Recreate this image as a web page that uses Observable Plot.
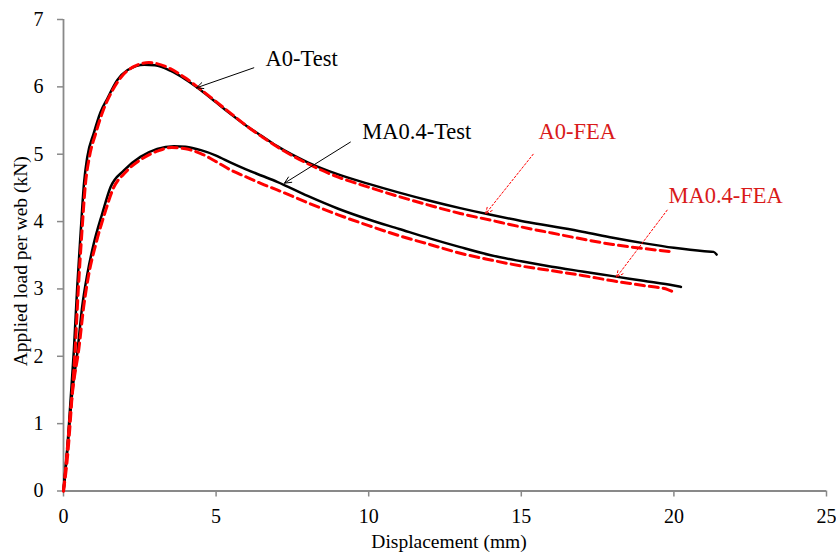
<!DOCTYPE html>
<html>
<head>
<meta charset="utf-8">
<script src="https://cdn.jsdelivr.net/npm/d3@7"></script>
<script src="https://cdn.jsdelivr.net/npm/@observablehq/plot@0.6"></script>
<style>
  html, body { margin: 0; padding: 0; background: #fff; }
</style>
</head>
<body>
<div id="chart"></div>
<script>
// ---- Data ----
const xTicks = [0, 5, 10, 15, 20, 25];
const yTicks = [0, 1, 2, 3, 4, 5, 6, 7];

const a0TestX = [0, 0.12, 0.23, 0.34, 0.45, 0.56, 0.67, 0.78, 0.99, 1.21, 1.43, 1.76, 2.1, 2.65, 3.0, 3.5, 4.0, 4.5, 5.0, 5.5, 6.0, 6.5, 7.0, 8.0, 9.0, 10, 11, 12, 13, 14, 15, 16, 17, 18, 19, 20, 21, 21.3, 21.4];
const a0TestY = [0, 0.6, 1.34, 2.09, 3.03, 3.82, 4.56, 4.96, 5.31, 5.62, 5.82, 6.1, 6.25, 6.33, 6.32, 6.24, 6.11, 5.95, 5.77, 5.59, 5.42, 5.27, 5.12, 4.88, 4.70, 4.56, 4.43, 4.31, 4.20, 4.10, 4.01, 3.93, 3.85, 3.76, 3.68, 3.61, 3.56, 3.55, 3.51];

const a0FeaX = [0, 0.15, 0.27, 0.38, 0.49, 0.6, 0.72, 0.85, 1.05, 1.3, 1.55, 1.9, 2.3, 2.8, 3.0, 3.5, 4.0, 4.5, 5.0, 5.5, 6.0, 6.5, 7.0, 8.0, 9.0, 10, 11, 12, 13, 14, 15, 16, 17, 18, 19, 20];
const a0FeaY = [0, 0.6, 1.34, 2.09, 3.03, 3.82, 4.56, 4.96, 5.3, 5.65, 5.9, 6.15, 6.3, 6.36, 6.35, 6.27, 6.13, 5.96, 5.78, 5.6, 5.42, 5.26, 5.11, 4.86, 4.66, 4.51, 4.37, 4.24, 4.12, 4.02, 3.92, 3.83, 3.74, 3.66, 3.6, 3.55];

const ma04TestX = [0, 0.08, 0.17, 0.28, 0.45, 0.61, 0.78, 0.99, 1.27, 1.54, 1.98, 2.52, 3.07, 3.62, 4.0, 4.5, 5.0, 5.5, 6.0, 6.5, 7.0, 8.0, 9.0, 10, 11, 12, 13, 14, 15, 16, 17, 18, 19, 20, 20.23];
const ma04TestY = [0, 0.4, 0.85, 1.44, 2.04, 2.73, 3.22, 3.67, 4.12, 4.51, 4.76, 4.96, 5.08, 5.12, 5.11, 5.06, 4.98, 4.87, 4.77, 4.68, 4.59, 4.38, 4.19, 4.03, 3.89, 3.75, 3.62, 3.5, 3.41, 3.33, 3.26, 3.19, 3.12, 3.05, 3.03];

const ma04FeaX = [0, 0.12, 0.22, 0.33, 0.5, 0.66, 0.83, 1.05, 1.35, 1.62, 2.05, 2.6, 3.1, 3.55, 4.0, 4.5, 5.0, 5.5, 6.0, 6.5, 7.0, 8.0, 9.0, 10, 11, 12, 13, 14, 15, 16, 17, 18, 19, 19.8, 20.0];
const ma04FeaY = [0, 0.6, 1.15, 1.6, 2.1, 2.73, 3.22, 3.65, 4.12, 4.48, 4.74, 4.94, 5.05, 5.1, 5.08, 5.01, 4.89, 4.76, 4.66, 4.56, 4.47, 4.28, 4.1, 3.94, 3.79, 3.66, 3.53, 3.43, 3.34, 3.27, 3.2, 3.12, 3.05, 2.99, 2.95];

// annotation labels & arrows (data units)
const labelText = ["A0-Test", "MA0.4-Test", "A0-FEA", "MA0.4-FEA"];
const labelX = [6.62, 9.79, 15.56, 19.82];
const labelY = [6.317, 5.233, 5.233, 4.283];
const labelKind = ["test", "test", "fea", "fea"];
const arrowX1 = [6.235, 9.40, 15.39, 19.78];
const arrowY1 = [6.283, 5.18, 5.0, 4.17];
const arrowX2 = [4.358, 7.24, 13.83, 18.12];
const arrowY2 = [5.986, 4.57, 4.115, 3.174];

const xTitle = "Displacement (mm)";
const yTitle = "Applied load per web (kN)";

// ---- Build tables ----
const toPts = (xs, ys) => xs.map((x, i) => ({x, y: ys[i]}));
const a0Test = toPts(a0TestX, a0TestY);
const a0Fea = toPts(a0FeaX, a0FeaY);
const ma04Test = toPts(ma04TestX, ma04TestY);
const ma04Fea = toPts(ma04FeaX, ma04FeaY);
const labels = labelText.map((t, i) => ({t, x: labelX[i], y: labelY[i], k: labelKind[i]}));
const arrows = arrowX1.map((x1, i) => ({x1, y1: arrowY1[i], x2: arrowX2[i], y2: arrowY2[i], k: labelKind[i]}));
const testArrows = arrows.filter(d => d.k === "test");
const feaArrows = arrows.filter(d => d.k === "fea");

const RED = "#ff0000";
const RED_TEXT = "#d91a1a";
const AXIS = "#898989";
const FONT = "Liberation Serif, Times New Roman, serif";
const CURVE = "monotone-x";

const chart = Plot.plot({
  width: 836,
  height: 554,
  marginLeft: 63,
  marginRight: 10,
  marginTop: 19,
  marginBottom: 63.5,
  style: {fontFamily: FONT, background: "white", color: "black"},
  x: {domain: [0, 25]},
  y: {domain: [0, 7]},
  marks: [
    Plot.axisX(xTicks, {tickSize: 6, tickPadding: 12, fontSize: 20, fontFamily: FONT, tickFormat: d3.format("d"), label: null, stroke: AXIS, fill: "black", strokeWidth: 1.5}),
    Plot.axisY(yTicks, {tickSize: 6, tickPadding: 14, fontSize: 20, fontFamily: FONT, tickFormat: d3.format("d"), label: null, stroke: AXIS, fill: "black", strokeWidth: 1.5}),
    Plot.ruleY([0], {stroke: AXIS, strokeWidth: 1.8}),
    Plot.ruleX([0], {stroke: AXIS, strokeWidth: 1.8}),
    Plot.line(a0Test, {x: "x", y: "y", stroke: "black", strokeWidth: 2.5, curve: CURVE}),
    Plot.line(ma04Test, {x: "x", y: "y", stroke: "black", strokeWidth: 2.5, curve: CURVE}),
    Plot.line(a0Fea, {x: "x", y: "y", stroke: RED, strokeWidth: 3, strokeDasharray: "9,5", curve: CURVE}),
    Plot.line(ma04Fea, {x: "x", y: "y", stroke: RED, strokeWidth: 3, strokeDasharray: "9,5", curve: CURVE}),
    Plot.arrow(testArrows, {x1: "x1", y1: "y1", x2: "x2", y2: "y2", stroke: "black", strokeWidth: 1, headLength: 11, headAngle: 50}),
    Plot.arrow(feaArrows, {x1: "x1", y1: "y1", x2: "x2", y2: "y2", stroke: RED, strokeWidth: 1, strokeDasharray: "2,2", headLength: 11, headAngle: 50}),
    Plot.text(labels, {x: "x", y: "y", text: "t", fill: d => d.k === "test" ? "black" : RED_TEXT, textAnchor: "start", lineAnchor: "bottom", fontSize: 22.5, fontFamily: FONT}),
    Plot.text([xTitle], {frameAnchor: "bottom", dx: 4, dy: 56.5, lineAnchor: "bottom", textAnchor: "middle", fontSize: 19.5, fontFamily: FONT, fill: "black"}),
    Plot.text([yTitle], {frameAnchor: "left", dx: -37, dy: 6, rotate: -90, lineAnchor: "bottom", textAnchor: "middle", fontSize: 19.5, fontFamily: FONT, fill: "black"})
  ]
});
document.getElementById("chart").appendChild(chart);
</script>
</body>
</html>
